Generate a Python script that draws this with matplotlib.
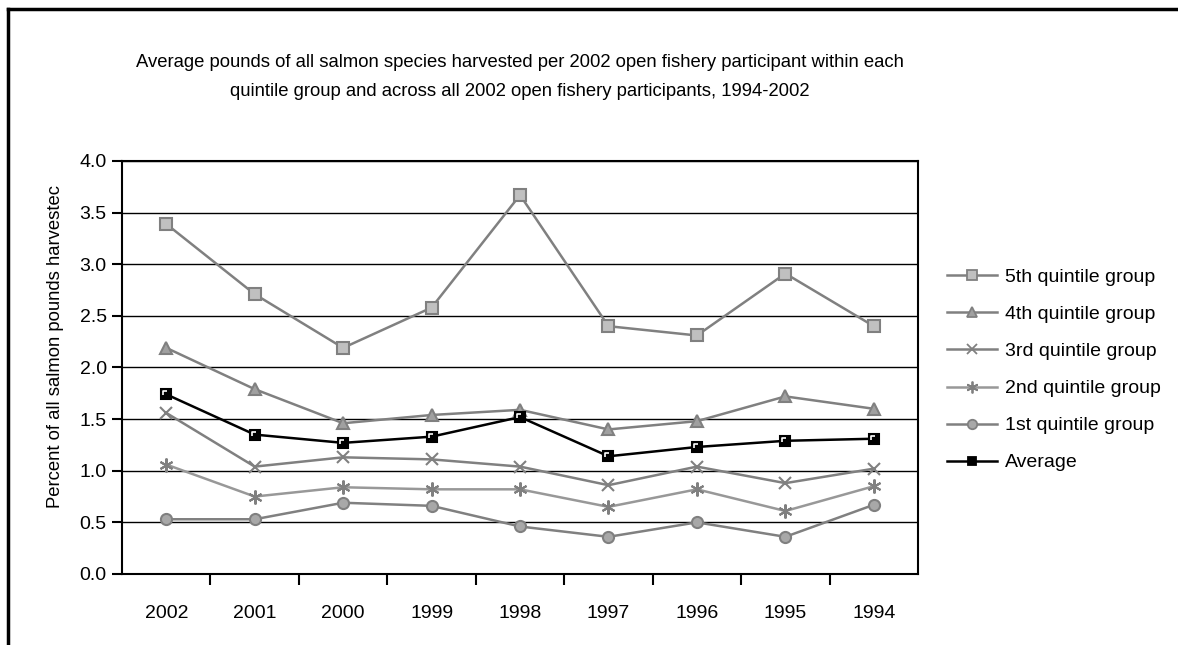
import matplotlib
matplotlib.use("Agg")
import matplotlib.pyplot as plt
from matplotlib.lines import Line2D
from matplotlib.path import Path

plt.rcParams['font.family'] = ['Liberation Sans Narrow', 'Liberation Sans', 'DejaVu Sans']

years = ['2002', '2001', '2000', '1999', '1998', '1997', '1996', '1995', '1994']
q5 = [3.39, 2.71, 2.19, 2.58, 3.67, 2.40, 2.31, 2.91, 2.40]
q4 = [2.19, 1.79, 1.46, 1.54, 1.59, 1.40, 1.48, 1.72, 1.60]
q3 = [1.56, 1.04, 1.13, 1.11, 1.04, 0.86, 1.04, 0.88, 1.02]
q2 = [1.06, 0.75, 0.84, 0.82, 0.82, 0.65, 0.82, 0.61, 0.85]
q1 = [0.53, 0.53, 0.69, 0.66, 0.46, 0.36, 0.50, 0.36, 0.67]
avg = [1.74, 1.35, 1.27, 1.33, 1.52, 1.14, 1.23, 1.29, 1.31]

title = ("Average pounds of all salmon species harvested per 2002 open fishery participant within each\n"
         "quintile group and across all 2002 open fishery participants, 1994-2002")

fig = plt.figure(figsize=(11.78, 6.45), dpi=100)
ax = fig.add_axes([0.1036, 0.1101, 0.6757, 0.6403])

x = list(range(len(years)))
gray = '#808080'
lite = '#c0c0c0'

# series: (data, label, line colour, marker, face, edge, size)
series = [
    (q5, '5th quintile group', gray, 's', lite, gray, 8),
    (q4, '4th quintile group', gray, '^', '#a0a0a0', gray, 9),
    (q3, '3rd quintile group', gray, 'x', gray, gray, 9),
    (q2, '2nd quintile group', '#989898', (6, 2, 0), gray, gray, 10),
    (q1, '1st quintile group', gray, 'o', '#a8a8a8', gray, 8),
    (avg, 'Average', 'black', 's', 'black', 'black', 7.5),
]
for vals, lab, col, mk, fc, ec, ms in series:
    ax.plot(x, vals, color=col, lw=1.8, marker=mk, markersize=ms,
            markerfacecolor=fc, markeredgecolor=ec,
            markeredgewidth=1.5, label=lab, zorder=3)

# white bevel highlight on the average markers (excel style)
bevel = Path([(-1, -0.4), (-1, 1), (0.4, 1)], [Path.MOVETO, Path.LINETO, Path.LINETO])
ax.plot(x, avg, ls='none', marker=bevel, markersize=4.5, markerfacecolor='none',
        markeredgecolor='white', markeredgewidth=1.2, zorder=4)

ax.set_xlim(-0.5, len(years) - 0.5)
ax.set_ylim(0, 4.0)
ax.set_yticks([i * 0.5 for i in range(9)])
ax.set_yticklabels(['%.1f' % (i * 0.5) for i in range(9)])
ax.yaxis.grid(True, color='black', lw=1.0)
ax.set_axisbelow(True)

ax.set_xticks(x)
ax.set_xticklabels(years)
ax.set_xticks([i + 0.5 for i in range(len(years) - 1)], minor=True)
ax.tick_params(axis='x', which='major', length=0, pad=22, labelsize=14)
ax.tick_params(axis='x', which='minor', length=8, width=1.5, direction='out')
ax.tick_params(axis='y', length=7, width=1.5, direction='out', labelsize=14, pad=4)
for s in ax.spines.values():
    s.set_linewidth(1.5)
    s.set_color('black')

fig.text(0.047, 1 - 346 / 645, 'Percent of all salmon pounds harvestec', rotation=90,
         ha='center', va='center', fontsize=13.3)

fig.text(0.441, 1 - 77 / 645, title, ha='center', va='center', fontsize=13.3,
         linespacing=1.95)

handles = [Line2D([], [], color=c, lw=1.8, marker=m, markersize=s * 0.85,
                  markerfacecolor=f, markeredgecolor=e, markeredgewidth=1.3)
           for _, _, c, m, f, e, s in series]
labels = [l for _, l, _, _, _, _, _ in series]
fig.legend(handles, labels, loc='center left', bbox_to_anchor=(0.789, 1 - 370 / 645),
           frameon=False, fontsize=14, handlelength=2.6, handletextpad=0.4,
           labelspacing=1.0)

# outer frame (clipped on the right and bottom)
fig.add_artist(Line2D([0.007, 1.0], [0.986, 0.986], color='black', lw=2.5,
                      transform=fig.transFigure))
fig.add_artist(Line2D([0.007, 0.007], [0.0, 0.986], color='black', lw=2.5,
                      transform=fig.transFigure))

fig.savefig('out.png', dpi=100)
